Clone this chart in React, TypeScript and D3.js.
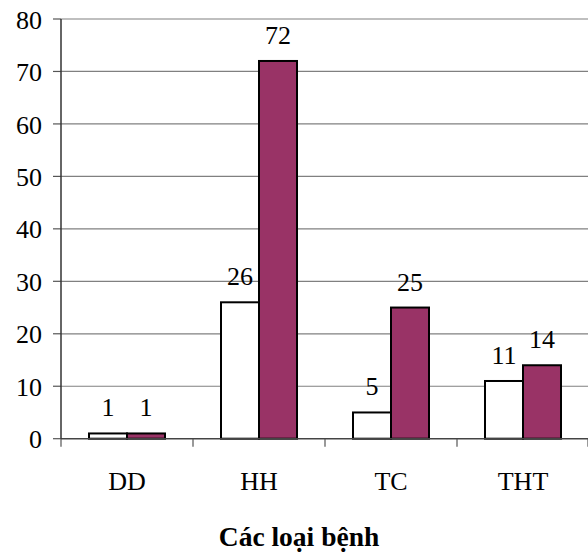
import React from "react";
import * as d3 from "d3";

const categories = ["DD", "HH", "TC", "THT"];
const series1 = [1, 26, 5, 11];
const series2 = [1, 72, 25, 14];
const yTicks = [0, 10, 20, 30, 40, 50, 60, 70, 80];
const axisTitle = "Các loại bệnh";

const W = 588;
const H = 552;
const FONT = "'Liberation Serif', 'Times New Roman', Times, serif";

export default function App() {
  const left = 61;
  const right = 589;
  const y = d3.scaleLinear().domain([0, 80]).range([438.7, 19]);
  const x = d3.scaleBand<string>().domain(categories).range([left, right]).paddingInner(0).paddingOuter(0);
  const x1 = d3
    .scaleBand<string>()
    .domain(["s1", "s2"])
    .range([0, x.bandwidth()])
    .paddingInner(0)
    .paddingOuter(0.737);
  const series = [
    { key: "s1", values: series1, fill: "#ffffff" },
    { key: "s2", values: series2, fill: "#993366" },
  ];
  const y0 = y(0);
  const catTicks = [...categories.map((c) => x(c)!), right - 1];

  return (
    <svg
      width={W}
      height={H}
      style={{ position: "absolute", left: 0, top: 0, background: "#fff", fontFamily: FONT }}
    >
      {yTicks.map((t) => (
        <g key={t}>
          {t > 0 && (
            <line x1={left} x2={W} y1={y(t)} y2={y(t)} stroke="#808080" strokeWidth={1.2} />
          )}
          <line x1={53} x2={left} y1={y(t)} y2={y(t)} stroke="#555" strokeWidth={1.2} />
          <text x={42} y={y(t)} dy="0.37em" textAnchor="end" fontSize={26} fill="#000">
            {t}
          </text>
        </g>
      ))}
      {series.map((s) =>
        s.values.map((v, i) => {
          const bx = x(categories[i])! + x1(s.key)!;
          return (
            <g key={s.key + i}>
              <rect
                x={bx}
                y={y(v)}
                width={x1.bandwidth()}
                height={y0 - y(v)}
                fill={s.fill}
                stroke="#000"
                strokeWidth={2}
              />
              <text
                x={bx + x1.bandwidth() / 2}
                y={y(v) - 17}
                textAnchor="middle"
                fontSize={26}
                fill="#000"
              >
                {v}
              </text>
            </g>
          );
        })
      )}
      <line x1={left} x2={W} y1={y0} y2={y0} stroke="#444" strokeWidth={1.5} />
      <line x1={left} x2={left} y1={y(80)} y2={y0} stroke="#333" strokeWidth={1.5} />
      {catTicks.map((cx, i) => (
        <line key={i} x1={cx} x2={cx} y1={y0} y2={y0 + 8} stroke="#555" strokeWidth={1.2} />
      ))}
      {categories.map((c) => (
        <text
          key={c}
          x={x(c)! + x.bandwidth() / 2}
          y={490}
          textAnchor="middle"
          fontSize={26}
          fill="#000"
        >
          {c}
        </text>
      ))}
      <text x={299} y={546} textAnchor="middle" fontSize={27.5} fontWeight="bold" fill="#000">
        {axisTitle}
      </text>
    </svg>
  );
}
